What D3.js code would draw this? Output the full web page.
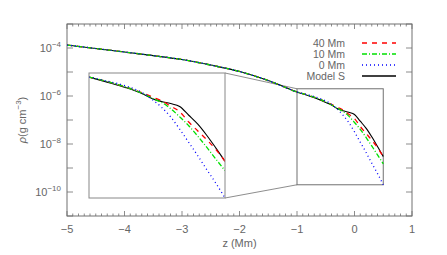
<!DOCTYPE html>
<html>
<head>
<meta charset="utf-8">
<script src="https://d3js.org/d3.v7.min.js"></script>
<style>
  body { margin: 0; background: #fff; }
  text { font-family: "Liberation Sans", Arial, sans-serif; fill: #666; }
</style>
</head>
<body>
<div id="chart"></div>
<script>
// height z (Mm) and density rho (g cm^-3)
var zGrid = [-5, -4.5, -4, -3.5, -3, -2.5, -2, -1.5, -1, -0.8, -0.6, -0.4, -0.3, -0.2, -0.1, 0, 0.1, 0.2, 0.3, 0.4, 0.5];
var rhoCommon = [1.33e-4, 9.5e-5, 6.8e-5, 4.8e-5, 3.3e-5, 1.95e-5, 1.05e-5, 4.4e-6, 1.48e-6];
var rho40 = [1.07e-6, 7.2e-7, 4.5e-7, 3.4e-7, 2.6e-7, 1.74e-7, 1.15e-7, 5.4e-8, 2.8e-8, 1.45e-8, 7.1e-9, 3.0e-9];
var rho10 = [1.07e-6, 7.2e-7, 4.3e-7, 3.1e-7, 2.3e-7, 1.45e-7, 7.9e-8, 4.1e-8, 1.9e-8, 8.3e-9, 3.5e-9, 1.5e-9];
var rho0 = [1.1e-6, 7.8e-7, 4.5e-7, 2.8e-7, 1.6e-7, 7.9e-8, 3.2e-8, 1.2e-8, 4.5e-9, 1.6e-9, 5.9e-10, 2.0e-10];
var rhoModelS = [1.02e-6, 6.9e-7, 4.2e-7, 3.0e-7, 2.45e-7, 2.1e-7, 1.7e-7, 8.9e-8, 4.6e-8, 2.0e-8, 7.9e-9, 3.0e-9];

var seriesNames = ["40 Mm", "10 Mm", "0 Mm", "Model S"];
var seriesRho = [rho40, rho10, rho0, rhoModelS];
var seriesColor = ["#ff0000", "#00e000", "#0000ff", "#000000"];
var seriesDash = ["5,5", "5,2,1,2", "1,3", null];

var xTicks = [-5, -4, -3, -2, -1, 0, 1];
var yTickExp = [-10, -8, -6, -4];
var zoomZ = [-1, 0.5];
var zoomRho = [2e-10, 2e-6];

var width = 447, height = 255;
var margin = { top: 24, right: 35, bottom: 39, left: 67 };

var svg = d3.select("#chart").append("svg")
    .attr("width", width)
    .attr("height", height);

var x = d3.scaleLinear().domain([-5, 1]).range([margin.left, width - margin.right]);
var y = d3.scaleLog().domain([1e-11, 1e-3]).range([height - margin.bottom, margin.top]);

// inset scales
var ix = d3.scaleLinear().domain(zoomZ).range([89, 225]);
var iy = d3.scaleLog().domain(zoomRho).range([198, 73]);

var data = seriesRho.map(function (r, i) {
    var vals = rhoCommon.concat(r);
    return { name: seriesNames[i], color: seriesColor[i], dash: seriesDash[i],
             pts: zGrid.map(function (z, k) { return [z, vals[k]]; }) };
});
// draw the solid Model S first so the dashed ones show on top of it
var drawOrder = [data[3], data[0], data[1], data[2]];

var gray = "#707070";

// axes box
svg.append("rect")
    .attr("x", x(-5)).attr("y", y(1e-3))
    .attr("width", x(1) - x(-5)).attr("height", y(1e-11) - y(1e-3))
    .attr("fill", "none").attr("stroke", gray).attr("stroke-width", 1);

// x ticks (bottom and top)
var xMinor = d3.range(-50, 11).map(function (d) { return d / 10; });
xMinor.forEach(function (t) {
    var major = Math.abs(t - Math.round(t)) < 1e-9;
    var len = major ? 5 : 2.5;
    svg.append("line").attr("x1", x(t)).attr("x2", x(t))
        .attr("y1", y(1e-11)).attr("y2", y(1e-11) - len)
        .attr("stroke", gray).attr("stroke-width", 0.8);
    svg.append("line").attr("x1", x(t)).attr("x2", x(t))
        .attr("y1", y(1e-3)).attr("y2", y(1e-3) + len)
        .attr("stroke", gray).attr("stroke-width", 0.8);
});
xTicks.forEach(function (t) {
    svg.append("text").attr("x", x(t)).attr("y", y(1e-11) + 17)
        .attr("text-anchor", "middle").style("font-size", "11px")
        .text(t < 0 ? "\u2212" + Math.abs(t) : t);
});

// y ticks (left and right), every decade
d3.range(-11, -2).forEach(function (e) {
    var v = Math.pow(10, e);
    svg.append("line").attr("x1", x(-5)).attr("x2", x(-5) + 6)
        .attr("y1", y(v)).attr("y2", y(v)).attr("stroke", gray).attr("stroke-width", 0.8);
    svg.append("line").attr("x1", x(1)).attr("x2", x(1) - 6)
        .attr("y1", y(v)).attr("y2", y(v)).attr("stroke", gray).attr("stroke-width", 0.8);
});
yTickExp.forEach(function (e) {
    var t = svg.append("text").attr("x", x(-5) - 6).attr("y", y(Math.pow(10, e)) + 4)
        .attr("text-anchor", "end").style("font-size", "11px");
    t.append("tspan").text("10");
    t.append("tspan").attr("dy", -5).style("font-size", "8px").text("\u2212" + Math.abs(e));
});

// axis titles
svg.append("text").attr("x", (x(-5) + x(1)) / 2).attr("y", height - 8)
    .attr("text-anchor", "middle").style("font-size", "11px").text("z  (Mm)");
var yl = svg.append("text")
    .attr("transform", "translate(26," + (y(1e-3) + y(1e-11)) / 2 + ") rotate(-90)")
    .attr("text-anchor", "middle").style("font-size", "11px");
yl.append("tspan").style("font-style", "italic").text("\u03c1");
yl.append("tspan").text("(g  cm");
yl.append("tspan").attr("dy", -5).style("font-size", "8px").text("\u22123");
yl.append("tspan").attr("dy", 5).text(")");

// zoom box in main axes and connectors
var bx0 = x(zoomZ[0]), bx1 = x(zoomZ[1]), by0 = y(zoomRho[1]), by1 = y(zoomRho[0]);
svg.append("rect").attr("x", bx0).attr("y", by0)
    .attr("width", bx1 - bx0).attr("height", by1 - by0)
    .attr("fill", "none").attr("stroke", gray).attr("stroke-width", 1);
svg.append("line").attr("x1", ix.range()[1]).attr("y1", iy.range()[1])
    .attr("x2", bx0).attr("y2", by0).attr("stroke", gray).attr("stroke-width", 0.8);
svg.append("line").attr("x1", ix.range()[1]).attr("y1", iy.range()[0])
    .attr("x2", bx0).attr("y2", by1).attr("stroke", gray).attr("stroke-width", 0.8);

// main curves
var line = d3.line().x(function (d) { return x(d[0]); }).y(function (d) { return y(d[1]); })
    .curve(d3.curveMonotoneX);

svg.selectAll("path.main")
    .data(drawOrder)
    .enter()
    .append("path")
        .attr("class", "main")
        .attr("d", function (d) { return line(d.pts); })
        .attr("fill", "none")
        .attr("stroke", function (d) { return d.color; })
        .attr("stroke-width", function (d) { return d.dash ? 1.3 : 1.1; })
        .attr("stroke-dasharray", function (d) { return d.dash; });

// inset
svg.append("clipPath").attr("id", "insetClip")
    .append("rect").attr("x", 89).attr("y", 73).attr("width", 136).attr("height", 125);
svg.append("rect").attr("x", 89).attr("y", 73).attr("width", 136).attr("height", 125)
    .attr("fill", "#fff");

var iline = d3.line().x(function (d) { return ix(d[0]); }).y(function (d) { return iy(d[1]); })
    .curve(d3.curveMonotoneX);

svg.append("g").attr("clip-path", "url(#insetClip)")
    .selectAll("path")
    .data(drawOrder)
    .enter()
    .append("path")
        .attr("d", function (d) { return iline(d.pts.filter(function (p) { return p[0] >= zoomZ[0]; })); })
        .attr("fill", "none")
        .attr("stroke", function (d) { return d.color; })
        .attr("stroke-width", function (d) { return d.dash ? 1.3 : 1.1; })
        .attr("stroke-dasharray", function (d) { return d.dash; });

svg.append("rect").attr("x", 89).attr("y", 73).attr("width", 136).attr("height", 125)
    .attr("fill", "none").attr("stroke", "#888").attr("stroke-width", 1);

// legend
var legend = svg.selectAll("g.legend")
    .data(data)
    .enter()
    .append("g")
        .attr("class", "legend")
        .attr("transform", function (d, i) { return "translate(0," + (43 + i * 11) + ")"; });
legend.append("text").attr("x", 345).attr("y", 4)
    .attr("text-anchor", "end").style("font-size", "10.5px")
    .text(function (d) { return d.name; });
legend.append("line").attr("x1", 362).attr("x2", 396).attr("y1", 0).attr("y2", 0)
    .attr("stroke", function (d) { return d.color; })
    .attr("stroke-width", function (d) { return d.dash ? 1.3 : 1.6; })
    .attr("stroke-dasharray", function (d) { return d.dash; });
</script>
</body>
</html>
